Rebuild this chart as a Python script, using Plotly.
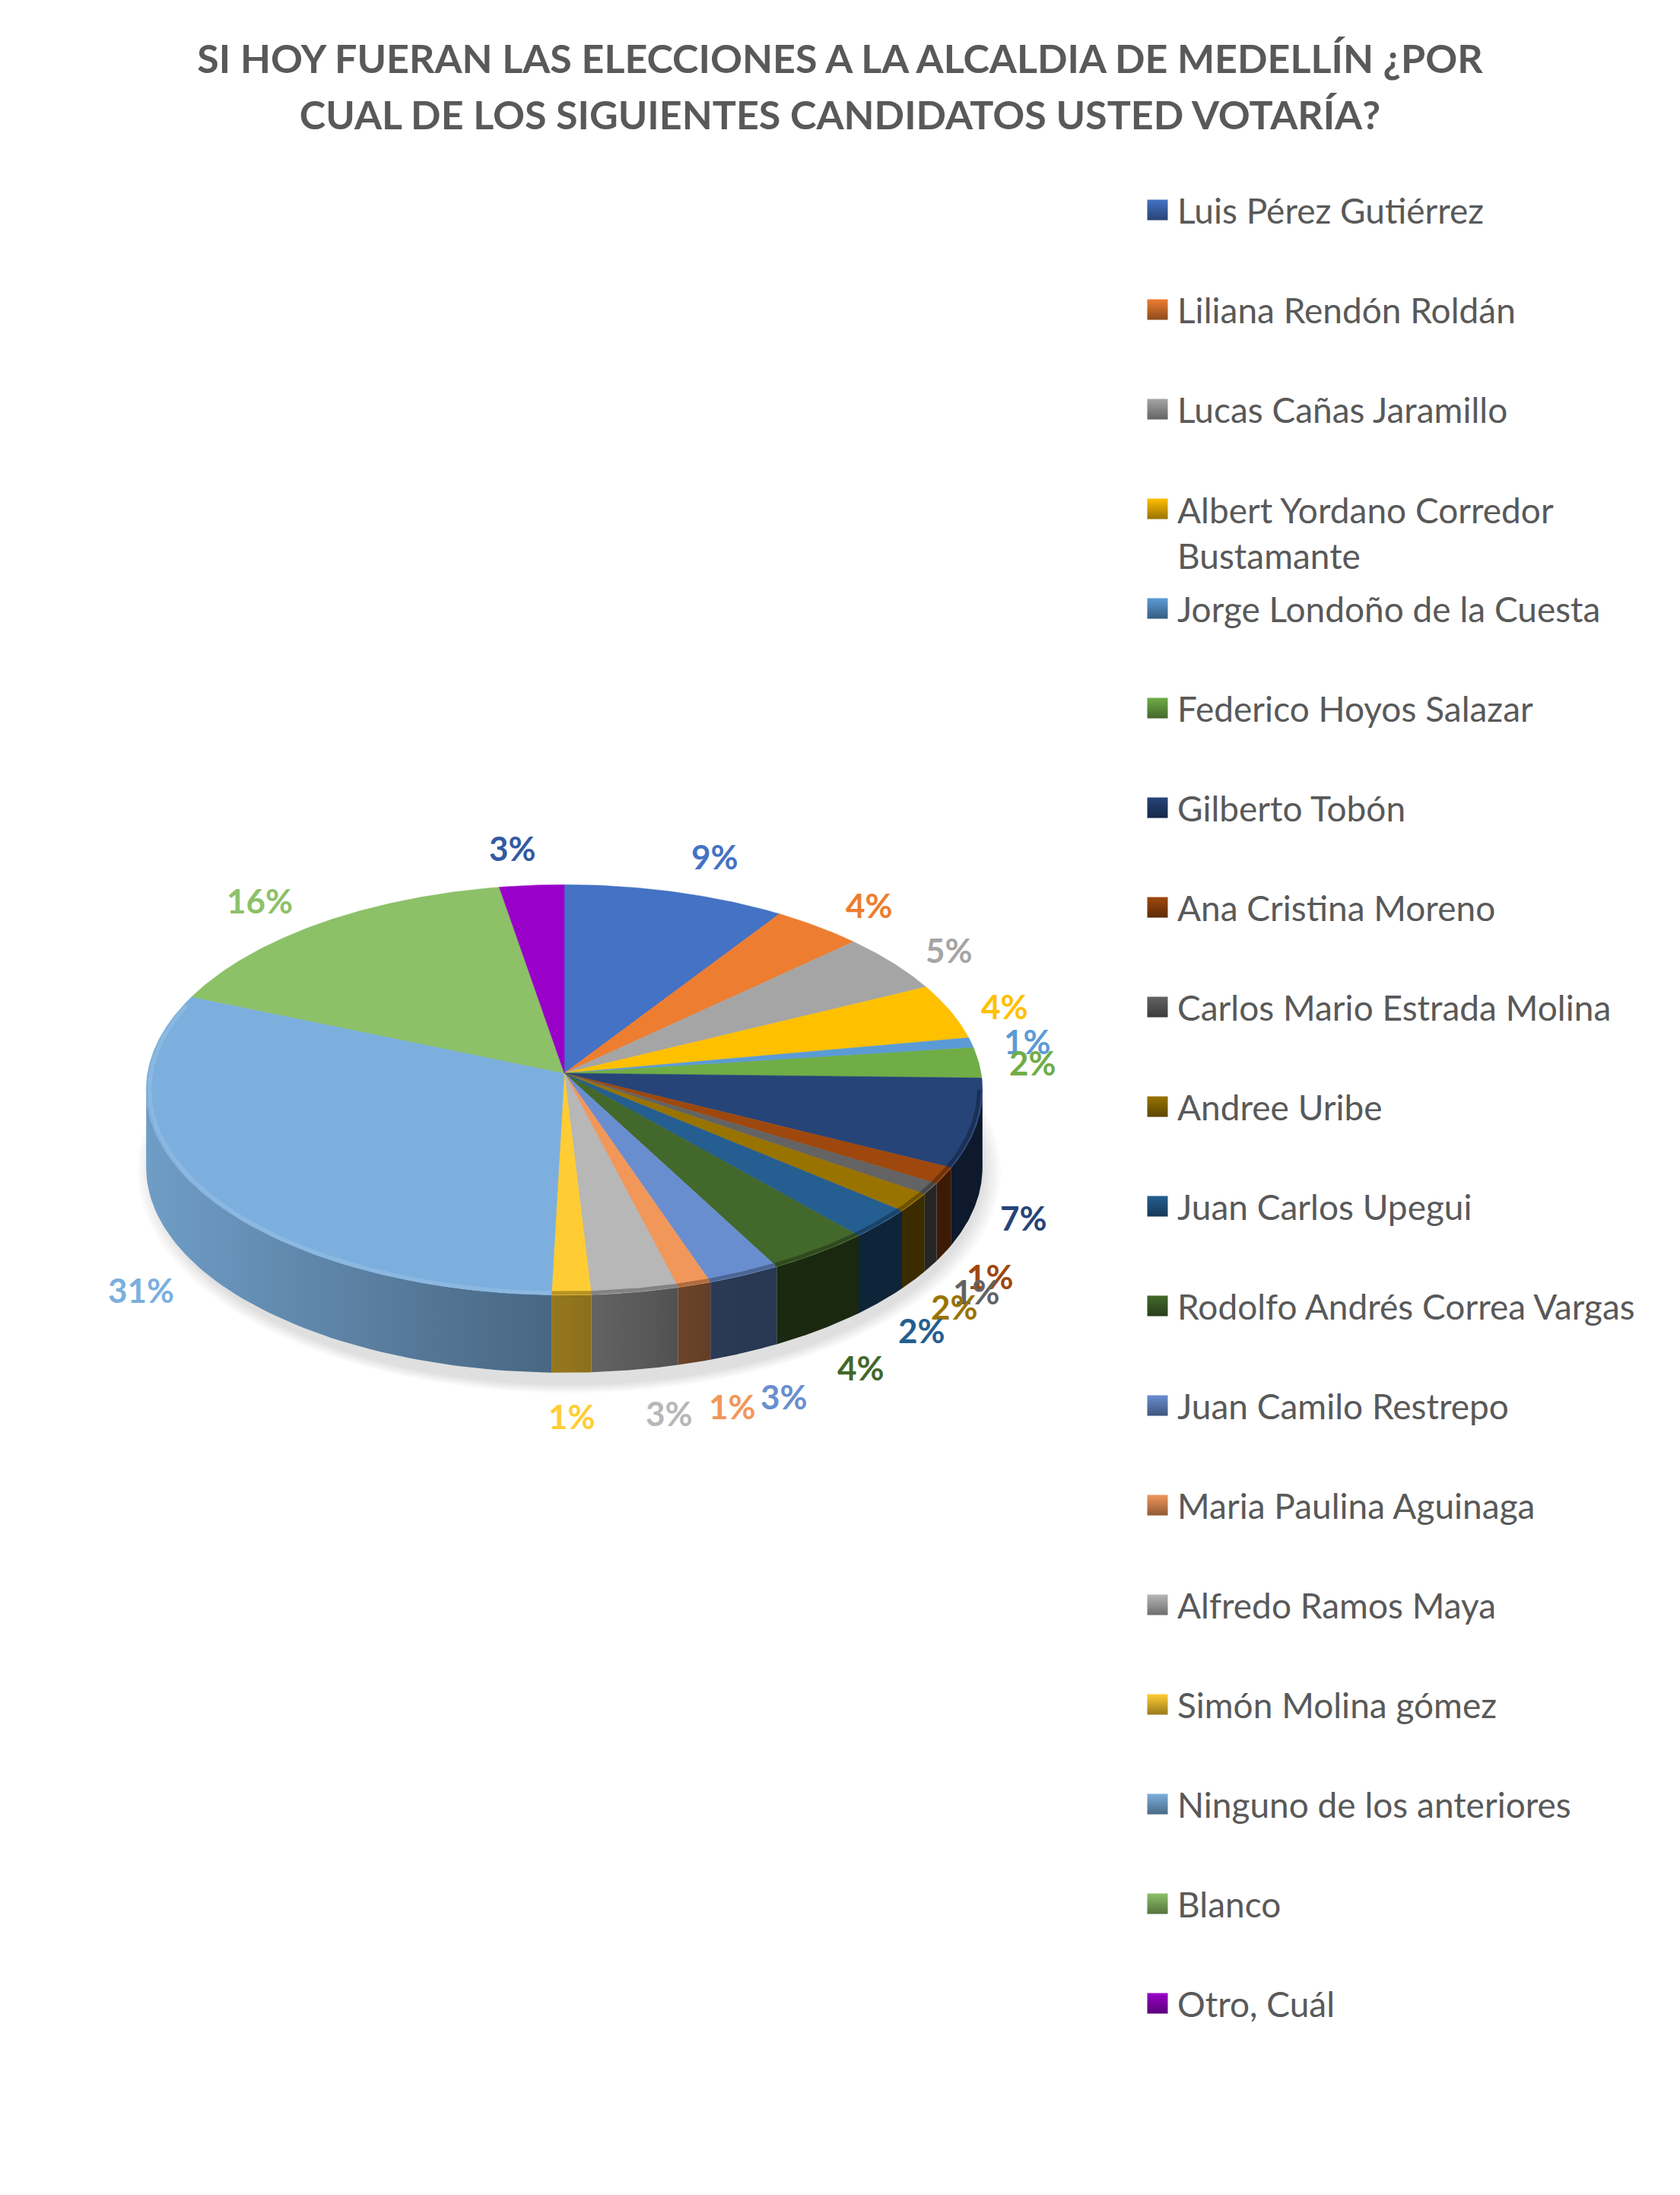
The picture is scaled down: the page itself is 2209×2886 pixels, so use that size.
import numpy as np
import plotly.graph_objects as go

TITLE_LINES = ["SI HOY FUERAN LAS ELECCIONES A LA ALCALDIA DE MEDELLÍN ¿POR",
               "CUAL DE LOS SIGUIENTES CANDIDATOS USTED VOTARÍA?"]
candidates = ["Luis Pérez Gutiérrez", "Liliana Rendón Roldán", "Lucas Cañas Jaramillo",
              "Albert Yordano Corredor<br>Bustamante", "Jorge Londoño de la Cuesta",
              "Federico Hoyos Salazar", "Gilberto Tobón", "Ana Cristina Moreno",
              "Carlos Mario Estrada Molina", "Andree Uribe", "Juan Carlos Upegui",
              "Rodolfo Andrés Correa Vargas", "Juan Camilo Restrepo", "Maria Paulina Aguinaga",
              "Alfredo Ramos Maya", "Simón Molina gómez", "Ninguno de los anteriores",
              "Blanco", "Otro, Cuál"]
values = [9.3, 3.8, 4.7, 4.4, 0.8, 2.4, 7.0, 1.3, 0.9, 1.5, 2.4, 3.7, 2.6, 1.2, 3.1, 1.4, 30.9, 16.0, 2.7]
colors = ["#4472C4", "#ED7D31", "#A5A5A5", "#FFC000", "#5B9BD5", "#70AD47", "#264478", "#9E480E",
          "#636363", "#997300", "#255E91", "#43682B", "#698ED0", "#F1975A", "#B7B7B7", "#FFCD33",
          "#7CAFDD", "#8CC168", "#9900C8"]
label_colors = colors[:-1] + ["#335AA1"]
# data-label offset from the slice's rim point, in pixels (right, down)
label_dx = [52, 67, 74, 71, 74, 71, 61, 60, 60, 54, 53, 54, 52, 50, 45, 1, -75, -80, -25]
label_dy = [-47, -29, -17, -7, -2, 0, 124, 132, 135, 137, 140, 151, 159, 160, 159, 159, 133, -30, -49]

W, H = 2209, 2886
CX, CY, RX, RY, PERSP, WALL = 742.0, 1411.0, 548.0, 268.0, 0.0815, 102.0
FONT = "Lato"
GREY = "#595959"


def rim(deg, r=1.0):
    t = np.radians(deg)
    X, Y = r * np.sin(t), r * np.cos(t)
    w = 1 + PERSP * Y
    return CX + RX * X / w, CY - RY * Y / w


def rgb(h):
    return np.array([int(h[i:i + 2], 16) for i in (1, 3, 5)], float)


def css(v):
    v = np.clip(v, 0, 255)
    return f"rgb({int(v[0])},{int(v[1])},{int(v[2])})"


def wall_factor(x):
    return np.interp(x, [191, 740, 900, 960, 1300], [0.90, 0.58, 0.44, 0.40, 0.38])


shares = np.array(values) / sum(values)
edges = np.concatenate([[0], np.cumsum(shares)]) * 360
fig = go.Figure()

# soft ground shadow
shapes = []
for s in np.linspace(1.0, 1.04, 8):
    shapes.append(dict(type="circle", layer="below", xref="x", yref="y",
                       x0=CX - (RX - 8) * s, x1=CX + (RX + 4) * s,
                       y0=CY + 22 + WALL + 16 - 292 * s, y1=CY + 22 + WALL + 16 + 270 * s,
                       fillcolor="rgba(0,0,0,0.016)", line_width=0))

# front walls
for name, c, a0, a1 in zip(candidates, colors, edges[:-1], edges[1:]):
    lo, hi = max(a0, 94.7), min(a1, 265.0)
    if hi <= lo:
        continue
    xs, ys = rim(np.linspace(lo, hi, 60))
    px = np.concatenate([xs, xs[::-1]])
    py = np.concatenate([ys, ys[::-1] + WALL])
    xmin, xmax = px.min(), px.max()
    stops = np.linspace(0, 1, 6)
    scale = [[float(t), css(rgb(c) * wall_factor(xmin + t * (xmax - xmin)))] for t in stops]
    fig.add_trace(go.Scatter(x=px, y=py, mode="lines", line=dict(width=0), fill="toself",
                             fillgradient=dict(type="horizontal", colorscale=scale),
                             hoverinfo="skip", showlegend=False))

# top faces
for name, c, v, a0, a1 in zip(candidates, colors, values, edges[:-1], edges[1:]):
    xs, ys = rim(np.linspace(a0, a1, max(8, int(a1 - a0) * 2)))
    fig.add_trace(go.Scatter(x=np.concatenate([[CX], xs, [CX]]), y=np.concatenate([[CY], ys, [CY]]),
                             mode="lines", line=dict(width=0.5, color=c), fill="toself", fillcolor=c,
                             name=name.replace("<br>", " "), text=f"{v:.0f}%", hoverinfo="name+text",
                             showlegend=False))

# bevel along the visible rim
for c, a0, a1 in zip(colors, edges[:-1], edges[1:]):
    lo, hi = max(a0, 94.7), min(a1, 290.0)
    if hi <= lo:
        continue
    xs, ys = rim(np.linspace(lo, hi, 50), 0.992)
    if (lo + hi) / 2 > 180:
        col = css(rgb(c) + (np.array([255, 255, 255]) - rgb(c)) * 0.12)
    else:
        col = css(rgb(c) * 0.72)
    fig.add_trace(go.Scatter(x=xs, y=ys, mode="lines", line=dict(width=5, color=col),
                             hoverinfo="skip", showlegend=False))

annotations = []
# data labels
for v, lc, a0, a1, dx, dy in zip(values, label_colors, edges[:-1], edges[1:], label_dx, label_dy):
    ax, ay = rim((a0 + a1) / 2)
    annotations.append(dict(x=float(ax), y=float(ay), xref="x", yref="y", xshift=dx, yshift=-dy,
                            text=f"{v:.0f}%", showarrow=False, xanchor="center", yanchor="middle",
                            font=dict(family=FONT, size=44, color=lc, weight="bold")))

# legend column
LEG_X, LEG_TX, LEG_Y0, LEG_STEP = 1522, 1546, 276, 131
leg_y = [LEG_Y0 + LEG_STEP * i for i in range(len(candidates))]
fig.add_trace(go.Scatter(x=[LEG_X] * len(candidates), y=leg_y, mode="markers",
                         marker=dict(symbol="square", size=27, color=colors,
                                     gradient=dict(type="vertical", color=[css(rgb(c) * 0.6) for c in colors]),
                                     line=dict(width=0)),
                         hoverinfo="skip", showlegend=False))
for name, y in zip(candidates, leg_y):
    two = "<br>" in name
    annotations.append(dict(x=LEG_TX, y=y + (31 if two else 0), xref="x", yref="y", text=name, showarrow=False,
                            xanchor="left", yanchor="middle", align="left",
                            font=dict(family=FONT, size=46, color=GREY)))

title_text = "<br>".join(f'<span style="font-size:52px">{t}</span>' for t in TITLE_LINES)
fig.update_layout(
    width=W, height=H, autosize=False, margin=dict(l=0, r=0, t=0, b=0),
    paper_bgcolor="white", plot_bgcolor="white", showlegend=False,
    title=dict(text=title_text, x=0.5, xanchor="center", xref="paper", y=1 - 96 / H, yanchor="middle",
               font=dict(family=FONT, size=57, color=GREY, weight="bold")),
    xaxis=dict(range=[0, W], visible=False, fixedrange=True),
    yaxis=dict(range=[H, 0], visible=False, fixedrange=True),
    shapes=shapes, annotations=annotations,
)
fig.write_html("out.html", config={"displayModeBar": False}, post_script="document.body.style.margin='0';")
